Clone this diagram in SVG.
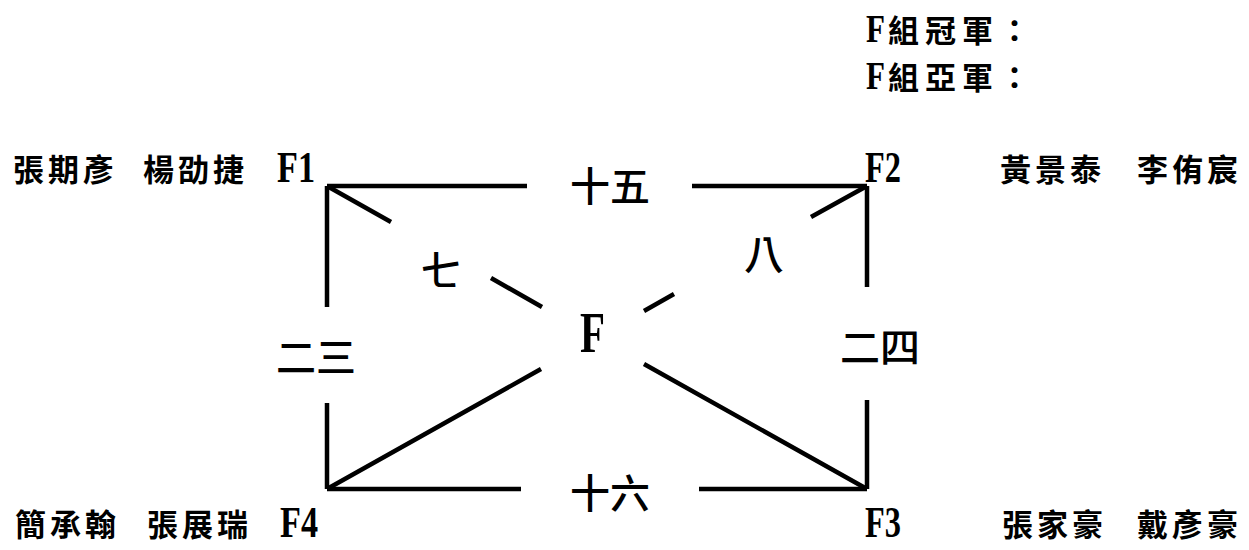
<svg xmlns="http://www.w3.org/2000/svg" width="1249" height="550" viewBox="0 0 1249 550">
<style>
.cjk{font-family:"Noto Sans CJK TC","Noto Sans CJK SC",sans-serif;font-weight:700;fill:#000;dominant-baseline:central}
.lat{font-family:"Liberation Serif",serif;font-weight:700;fill:#000;dominant-baseline:central}
.nm{font-size:31px;letter-spacing:4px}
.big{font-size:40px;font-weight:500}
.ln{stroke:#000;stroke-width:4.5;fill:none;stroke-linecap:butt}
</style>
<rect width="1249" height="550" fill="#fff"/>
<g id="connectors">
<path class="ln" d="M327,186H527M692,186H867"/>
<path class="ln" d="M327,489H521M699,489H867"/>
<path class="ln" d="M327,186V307M327,403V489"/>
<path class="ln" d="M867,186V287M867,400V489"/>
<path class="ln" d="M327,186L391,222M491,278L542,307M644,364L867,489"/>
<path class="ln" d="M867,186L811,217M674,294L644,311M541,369L327,489"/>
</g>
<g id="title">
<text class="lat" x="866" y="28" font-size="40" textLength="19" lengthAdjust="spacingAndGlyphs">F</text>
<text class="cjk" x="888" y="28" font-size="31" letter-spacing="6">組冠軍：</text>
<text class="lat" x="866" y="75" font-size="40" textLength="19" lengthAdjust="spacingAndGlyphs">F</text>
<text class="cjk" x="888" y="75" font-size="31" letter-spacing="6">組亞軍：</text>
</g>
<g id="F1">
<text class="cjk nm" x="13" y="167">張期彥</text>
<text class="cjk nm" x="143" y="167">楊劭捷</text>
<text class="lat" x="277" y="167" font-size="44" textLength="38" lengthAdjust="spacingAndGlyphs">F1</text>
</g>
<g id="F2">
<text class="lat" x="865" y="167" font-size="44" textLength="36" lengthAdjust="spacingAndGlyphs">F2</text>
<text class="cjk nm" x="1000" y="167">黃景泰</text>
<text class="cjk nm" x="1137" y="167">李侑宸</text>
</g>
<g id="F3">
<text class="lat" x="865" y="522" font-size="44" textLength="36" lengthAdjust="spacingAndGlyphs">F3</text>
<text class="cjk nm" x="1002" y="522">張家豪</text>
<text class="cjk nm" x="1137" y="522">戴彥豪</text>
</g>
<g id="F4">
<text class="cjk nm" x="15" y="522">簡承翰</text>
<text class="cjk nm" x="147" y="522">張展瑞</text>
<text class="lat" x="280" y="522" font-size="44" textLength="38" lengthAdjust="spacingAndGlyphs">F4</text>
</g>
<g id="center">
<text class="lat" x="580" y="332" font-size="58" textLength="25" lengthAdjust="spacingAndGlyphs">F</text>
</g>
<g id="labels">
<text class="cjk big" x="610" y="184" text-anchor="middle">十五</text>
<text class="cjk big" x="610" y="491" text-anchor="middle">十六</text>
<text class="cjk big" x="441" y="268" text-anchor="middle">七</text>
<text class="cjk big" x="764" y="252" text-anchor="middle">八</text>
<text class="cjk big" x="316" y="355" text-anchor="middle">二三</text>
<text class="cjk big" x="880" y="345" text-anchor="middle">二四</text>
</g>
</svg>
